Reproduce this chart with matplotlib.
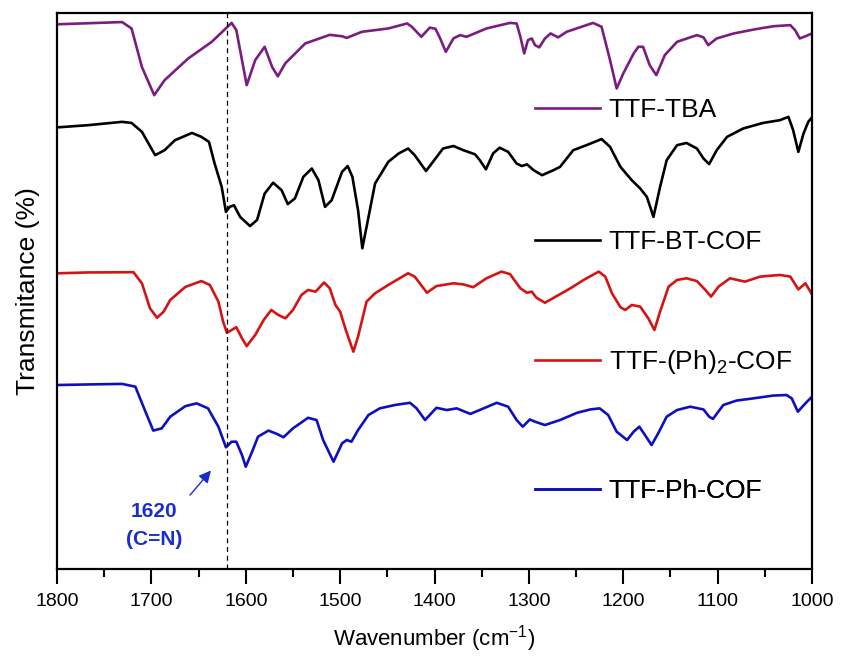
import matplotlib
matplotlib.use("Agg")
import matplotlib.pyplot as plt
from matplotlib.lines import Line2D
from matplotlib.ticker import MultipleLocator

plt.rcParams["font.family"] = ["Liberation Sans", "DejaVu Sans"]
plt.rcParams["mathtext.default"] = "regular"

# ── Spectra (wavenumber in cm-1, transmittance in arb. offset units) ──
tba_wn = [1800, 1731, 1721, 1710, 1697, 1686, 1661, 1636, 1615, 1610, 1599, 1590, 1580,
          1572, 1566, 1558, 1537, 1511, 1498, 1493, 1477, 1449, 1429, 1424, 1414, 1405,
          1399, 1394, 1388, 1380, 1373, 1366, 1345, 1320, 1313, 1309, 1305, 1301, 1297,
          1293.5, 1289, 1283, 1277, 1269, 1260, 1232, 1223, 1214, 1207, 1200, 1189, 1184,
          1179, 1172, 1165, 1156, 1143, 1122, 1115, 1110, 1101, 1083, 1062, 1041, 1023,
          1018, 1013, 1007, 1000]
tba_t = [98.0, 98.4, 97.25, 90.3, 85.25, 87.95, 91.85, 94.85, 98.25, 96.95, 87.05, 91.55,
         93.95, 90.3, 88.65, 91.0, 94.55, 96.1, 95.85, 95.55, 96.65, 97.25, 98.15, 97.55,
         95.75, 97.4, 97.2, 95.45, 93.05, 95.45, 96.05, 95.75, 97.25, 98.25, 98.15, 95.75,
         92.75, 95.15, 95.45, 94.25, 93.85, 95.45, 96.35, 95.65, 96.65, 98.25, 97.55, 91.55,
         86.45, 89.15, 92.75, 93.95, 93.95, 90.65, 88.85, 92.45, 94.85, 96.05, 95.65, 94.25,
         95.45, 96.35, 97.05, 97.65, 97.85, 96.95, 95.45, 95.85, 96.35]

bt_wn = [1800, 1767, 1731, 1721, 1710, 1696, 1686, 1675, 1657, 1647, 1639, 1633, 1625.5,
         1621, 1617, 1612.5, 1606, 1595.5, 1588, 1580, 1571, 1562, 1555.5, 1548, 1539, 1530,
         1523, 1516, 1509, 1498, 1492, 1487, 1481, 1476.5, 1472, 1463, 1449, 1438, 1428,
         1421, 1409, 1399, 1391, 1380, 1369.5, 1357, 1352, 1345.5, 1338, 1331, 1322, 1313,
         1307.5, 1302, 1295, 1286, 1274, 1267, 1253, 1239, 1223, 1214, 1203, 1191, 1182,
         1175, 1168, 1161, 1154, 1143, 1133, 1122, 1115, 1109, 1101, 1090, 1073, 1052, 1034,
         1025, 1020, 1014.5, 1009, 1004, 1000]
bt_t = [79.45, 79.85, 80.45, 80.25, 78.65, 74.45, 75.35, 77.15, 78.45, 77.75, 76.85, 72.95,
        68.75, 64.25, 65.15, 65.45, 63.35, 61.7, 62.8, 67.55, 69.5, 68.15, 65.65, 66.65,
        70.55, 72.05, 69.95, 65.15, 66.35, 71.45, 72.5, 70.55, 64.55, 57.7, 61.55, 69.35,
        73.25, 74.75, 75.65, 74.45, 71.6, 73.85, 75.65, 76.1, 75.35, 74.6, 73.55, 71.9,
        74.75, 75.8, 75.05, 72.95, 72.5, 72.8, 71.75, 70.85, 71.75, 72.35, 75.35, 76.25,
        77.35, 75.95, 72.35, 69.95, 68.45, 66.95, 63.35, 68.75, 73.55, 76.25, 76.65, 75.65,
        73.85, 72.85, 75.35, 77.75, 79.25, 80.25, 80.75, 81.35, 78.95, 75.05, 78.35, 80.45,
        81.25]

ph2_wn = [1800, 1767, 1719, 1710, 1701.5, 1694, 1687, 1680, 1664, 1647, 1638, 1629, 1624,
          1620, 1615, 1610, 1604, 1599, 1590, 1581, 1573, 1565.5, 1558, 1550, 1541, 1534,
          1526, 1517, 1511, 1505, 1500, 1494, 1486, 1481, 1472, 1463, 1449, 1428, 1421,
          1408, 1398, 1380, 1369.5, 1359, 1345, 1329, 1320, 1309, 1302, 1297, 1292, 1283,
          1270.5, 1256, 1242, 1226, 1219, 1212, 1203, 1198, 1191, 1182, 1173.5, 1167, 1161,
          1152, 1143, 1133, 1122, 1113, 1107, 1099, 1087, 1071, 1055, 1034, 1023, 1014.5,
          1007, 1000]
ph2_t = [53.2, 53.35, 53.4, 51.4, 46.9, 45.2, 46.3, 48.4, 50.75, 51.8, 51.1, 48.1, 44.5,
         42.5, 43.0, 43.5, 41.5, 40.1, 42.1, 44.8, 46.6, 45.7, 45.1, 46.6, 49.3, 50.2, 49.9,
         51.55, 50.5, 47.5, 46.3, 43.0, 39.1, 41.8, 48.1, 49.6, 51.1, 53.2, 52.6, 49.7, 50.9,
         51.4, 51.2, 50.7, 52.3, 53.5, 53.05, 50.5, 49.7, 49.9, 48.8, 47.9, 49.1, 50.5, 52.0,
         53.5, 52.6, 49.6, 47.1, 46.6, 47.5, 47.2, 45.1, 43.0, 46.3, 50.8, 52.0, 52.3, 51.8,
         50.2, 49.0, 50.8, 52.3, 51.7, 52.6, 52.9, 52.6, 50.3, 51.4, 49.4]

ph_wn = [1800, 1767, 1731, 1717, 1707, 1698, 1689, 1680, 1664, 1652, 1640, 1629, 1621,
         1615, 1610, 1604, 1600, 1594, 1587, 1576, 1567, 1560, 1550, 1534, 1525, 1518, 1507,
         1498, 1493, 1488, 1481, 1470, 1458, 1442, 1426, 1419, 1410, 1398, 1387, 1376.5,
         1362, 1348, 1334, 1322, 1313, 1306.5, 1299, 1293.5, 1283, 1267, 1249, 1235, 1225,
         1216, 1207, 1196, 1189, 1183, 1177, 1170, 1163, 1154, 1143, 1129, 1115, 1109, 1105,
         1094, 1080, 1062, 1041, 1027, 1021.5, 1015, 1007, 1000]
ph_t = [33.1, 33.2, 33.3, 32.8, 28.6, 24.9, 25.3, 27.4, 29.3, 29.8, 28.9, 25.6, 21.9, 22.9,
        22.9, 20.5, 18.4, 20.8, 23.8, 24.9, 24.3, 23.7, 25.3, 27.2, 26.8, 23.2, 19.3, 22.6,
        23.2, 22.9, 25.0, 27.7, 28.9, 29.5, 29.9, 28.9, 26.8, 29.0, 28.6, 28.9, 27.9, 28.9,
        29.9, 29.2, 26.8, 25.6, 26.9, 26.5, 25.9, 26.8, 28.1, 28.7, 28.9, 27.7, 24.7, 23.2,
        24.7, 25.6, 24.1, 22.3, 24.4, 27.4, 28.6, 29.2, 28.7, 27.4, 27.0, 29.5, 30.3, 30.7,
        31.2, 31.3, 30.7, 28.3, 29.8, 31.0]

labels = ["TTF-TBA", "TTF-BT-COF", "TTF-(Ph)$_2$-COF", "TTF-Ph-COF"]
colors = ["#7b1c80", "#000000", "#d41414", "#0f0fc0"]
CN_PEAK = 1620

# ── Plot ──────────────────────────────────────────────────────────────────────
fig = plt.figure(figsize=(8.42, 6.59), dpi=100)
ax = fig.add_axes([0.0677, 0.1366, 0.8967, 0.8434])

series = [(tba_wn, tba_t), (bt_wn, bt_t), (ph2_wn, ph2_t), (ph_wn, ph_t)]
for (wn, t), c in zip(series, colors):
    ax.plot(wn, t, color=c, linewidth=1.9, solid_joinstyle="round")

ax.axvline(CN_PEAK, color="black", linestyle=(0, (4, 3)), linewidth=0.9)

ax.set_xlim(1800, 1000)
ax.set_ylim(0, 100)
ax.xaxis.set_major_locator(MultipleLocator(100))
ax.xaxis.set_minor_locator(MultipleLocator(50))
ax.tick_params(axis="x", which="major", direction="out", length=11, width=1.5,
               labelsize=14, pad=6, top=False)
ax.tick_params(axis="x", which="minor", direction="out", length=6, width=1.5, top=False)
ax.tick_params(axis="y", left=False, labelleft=False)
for s in ax.spines.values():
    s.set_linewidth(1.6)

ax.set_xlabel("Wavenumber (cm$^{-1}$)", fontsize=16, labelpad=10)
ax.set_ylabel("Transmitance (%)", fontsize=19, labelpad=12)

# individual legend entries placed next to each spectrum
legend_y = [0.8255, 0.5887, 0.3723, 0.1403]
for lab, c, yy in zip(labels, colors, legend_y):
    h = Line2D([0], [0], color=c, linewidth=1.9)
    leg = ax.legend(handles=[h], labels=[lab], loc="center left",
                    bbox_to_anchor=(0.633, yy), frameon=False, fontsize=19,
                    handlelength=2.45, handletextpad=0.35, borderpad=0,
                    borderaxespad=0)
    ax.add_artist(leg)

# C=N annotation
ax.annotate("", xy=(1635, 18.1), xytext=(1661, 12.9),
            arrowprops=dict(arrowstyle="-|>", color="#1a2ed0", lw=1.0,
                            mutation_scale=18))
ax.text(1697, 7.9, "1620\n(C=N)", color="#1a2ed0", fontsize=15, fontweight="bold",
        ha="center", va="center", linespacing=1.6)

fig.savefig("out.png", dpi=100)
plt.close(fig)
